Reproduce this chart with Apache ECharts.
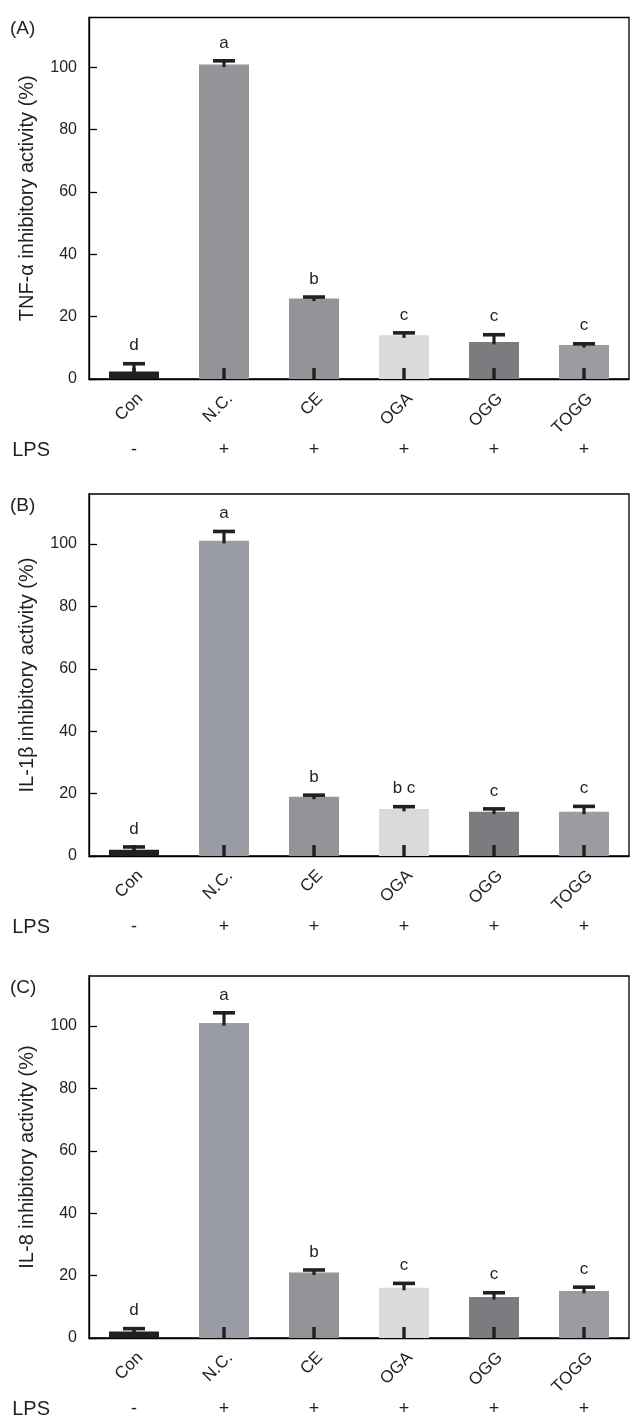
<!DOCTYPE html>
<html>
<head>
<meta charset="utf-8">
<script src="https://cdn.jsdelivr.net/npm/echarts@6/dist/echarts.min.js"></script>
<style>
html,body{margin:0;padding:0;background:#fff;}
#chart{width:641px;height:1425px;}
</style>
</head>
<body>
<div id="chart"></div>
<script>
// ---- data ----
const categories = ['Con', 'N.C.', 'CE', 'OGA', 'OGG', 'TOGG'];
const lpsSigns = ['-', '+', '+', '+', '+', '+'];

const tnfMean = [2.4, 100.9, 25.8, 14.0, 11.9, 10.9];
const tnfErr = [2.5, 1.2, 0.5, 0.8, 2.3, 0.4];
const tnfLetters = ['d', 'a', 'b', 'c', 'c', 'c'];

const il1bMean = [2.0, 101.0, 19.0, 15.1, 14.2, 14.2];
const il1bErr = [0.9, 3.0, 0.5, 0.7, 0.9, 1.7];
const il1bLetters = ['d', 'a', 'b', 'b c', 'c', 'c'];

const il8Mean = [2.1, 100.9, 21.0, 16.1, 13.1, 15.1];
const il8Err = [0.9, 3.3, 0.8, 1.4, 1.4, 1.2];
const il8Letters = ['d', 'a', 'b', 'c', 'c', 'c'];

const yTitles = ['TNF-\u03b1 inhibitory activity (%)', 'IL-1\u03b2 inhibitory activity (%)', 'IL-8 inhibitory activity (%)'];
const panelLabels = ['(A)', '(B)', '(C)'];

// ---- styles ----
const paletteA = ['#231f20', '#939497', '#939497', '#d9dadc', '#7b7c7f', '#9a9ca2'];
const paletteBC = ['#231f20', '#9a9ca3', '#939497', '#d9dadc', '#7b7c7f', '#9a9ca2'];
const ink = '#231f20';
const FONT = '"Liberation Sans", Arial, sans-serif';

const panels = [
  {mean: tnfMean, err: tnfErr, letters: tnfLetters, palette: paletteA, top: 17.5, bottomY: 379},
  {mean: il1bMean, err: il1bErr, letters: il1bLetters, palette: paletteBC, top: 494, bottomY: 856},
  {mean: il8Mean, err: il8Err, letters: il8Letters, palette: paletteBC, top: 976, bottomY: 1338}
];

const H = 1425;
const grids = [], xAxes = [], yAxes = [], series = [], graphics = [];

function errRenderer(letters) {
  return function (params, api) {
    const idx = api.value(0);
    const base = api.coord([idx, 0]);
    const barTop = api.coord([idx, api.value(1)]);
    const capPt = api.coord([idx, api.value(1) + api.value(2)]);
    const cx = base[0];
    return {
      type: 'group',
      children: [
        {type: 'rect', shape: {x: cx - 1.6, y: capPt[1], width: 3.2, height: barTop[1] - capPt[1] + 2.5}, style: {fill: ink}},
        {type: 'rect', shape: {x: cx - 11, y: capPt[1] - 1.8, width: 22, height: 3.6}, style: {fill: ink}},
        {type: 'rect', shape: {x: cx - 1.7, y: base[1] - 11, width: 3.4, height: 11}, style: {fill: ink}},
        {type: 'text', style: {text: letters[params.dataIndex], x: cx, y: capPt[1] - 18, align: 'center', verticalAlign: 'middle', fill: ink, font: '17px ' + FONT}}
      ]
    };
  };
}

panels.forEach((p, i) => {
  grids.push({left: 89, right: 12, top: p.top, bottom: H - p.bottomY, show: true, borderColor: '#000', borderWidth: 1.3, backgroundColor: 'transparent'});
  // category axis
  xAxes.push({
    type: 'category', gridIndex: i, data: categories, boundaryGap: true,
    axisLine: {show: true, lineStyle: {color: '#000', width: 1.3}},
    axisTick: {show: false},
    axisLabel: {rotate: 45, margin: 11, verticalAlign: 'top', fontSize: 17, color: ink, fontFamily: FONT, interval: 0}
  });
  // LPS row
  xAxes.push({
    type: 'category', gridIndex: i, data: lpsSigns, position: 'bottom', offset: 71,
    axisLine: {show: false}, axisTick: {show: false},
    axisLabel: {margin: 0, verticalAlign: 'middle', fontSize: 18, color: ink, fontFamily: FONT, interval: 0},
    name: 'LPS', nameLocation: 'start', nameGap: 39,
    nameTextStyle: {fontSize: 20, color: ink, fontFamily: FONT, verticalAlign: 'middle'}
  });
  yAxes.push({
    type: 'value', gridIndex: i, min: 0, max: 116, interval: 20,
    axisLine: {show: true, lineStyle: {color: '#000', width: 1.3}},
    axisTick: {show: true, inside: true, length: 8, lineStyle: {color: '#000', width: 1.3}},
    axisLabel: {showMaxLabel: false, margin: 12, fontSize: 16, color: ink, fontFamily: FONT},
    splitLine: {show: false},
    name: yTitles[i], nameLocation: 'middle', nameGap: 52,
    nameTextStyle: {fontSize: 20, color: ink, fontFamily: FONT}
  });
  series.push({
    type: 'bar', xAxisIndex: 2 * i, yAxisIndex: i, barWidth: 50,
    data: p.mean.map((v, k) => ({value: v, itemStyle: {color: p.palette[k]}})),
    z: 2, silent: true
  });
  series.push({
    type: 'custom', xAxisIndex: 2 * i, yAxisIndex: i, z: 3, silent: true,
    renderItem: errRenderer(p.letters),
    encode: {x: 0, y: 1},
    data: p.mean.map((v, k) => [k, v, p.err[k]])
  });
  graphics.push({
    type: 'text', left: 10, top: p.top + 2,
    style: {text: panelLabels[i], fill: ink, font: '19px ' + FONT}
  });
});

const chart = echarts.init(document.getElementById('chart'), null, {renderer: 'canvas'});
chart.setOption({
  animation: false,
  backgroundColor: '#fff',
  grid: grids,
  xAxis: xAxes,
  yAxis: yAxes,
  series: series,
  graphic: graphics
});
</script>
</body>
</html>
